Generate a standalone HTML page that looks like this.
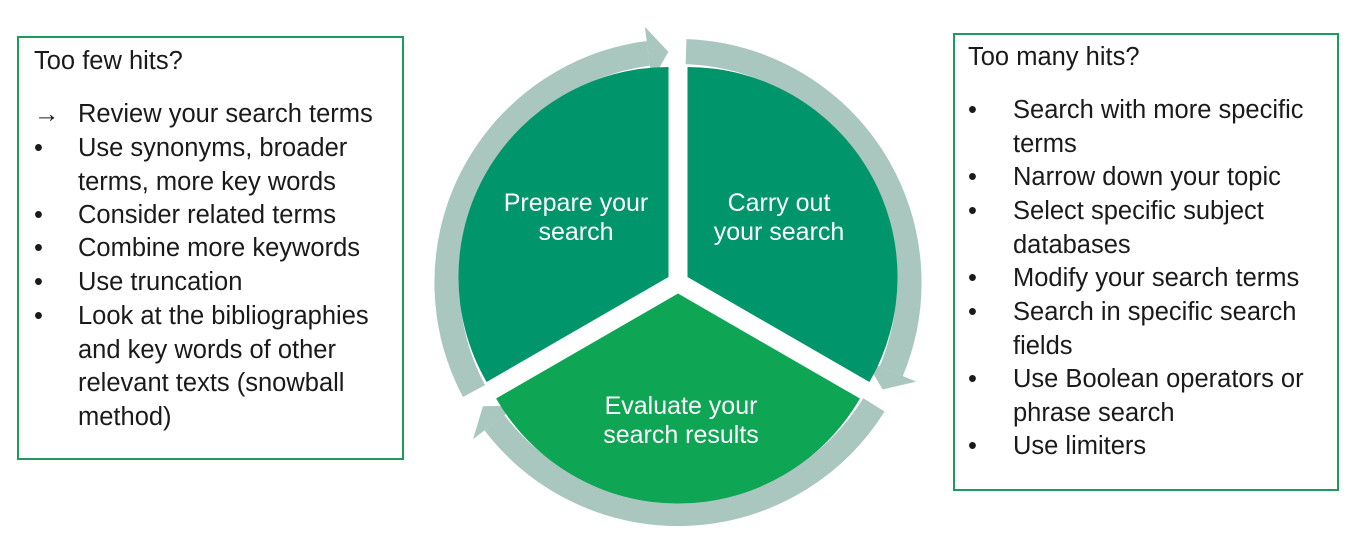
<!DOCTYPE html>
<html><head><meta charset="utf-8"><style>
body{margin:0;width:1372px;height:551px;background:#fff;position:relative;overflow:hidden;font-family:"Liberation Sans",sans-serif;color:#1a1a1a}
.box{position:absolute;border:2px solid #1e9a5e;box-sizing:border-box}
.t{position:absolute;font-size:25.5px;line-height:33.6px;white-space:nowrap}
svg{position:absolute;left:0;top:0}
</style></head><body>
<div class="box" style="left:17px;top:36px;width:387px;height:424px"></div>
<div class="box" style="left:953px;top:33px;width:386px;height:458px"></div>
<svg width="1372" height="551">
<g id="a">
<path d="M474 391 A231 231 0 0 1 648.3 53.4" fill="none" stroke="#a9c6bf" stroke-width="25"/>
<polygon points="644.8,26.7 668.3,51.7 651.9,81.2" fill="#a9c6bf"/>
</g>
<use href="#a" transform="rotate(120 678 282.5)"/>
<use href="#a" transform="rotate(240 678 282.5)"/>
<path d="M668.5 277 L668.5 67 A210 210 0 0 0 486.6 382 Z" fill="#00956b"/>
<path d="M687.5 277 L687.5 67 A210 210 0 0 1 869.4 382 Z" fill="#00956b"/>
<path d="M678 293.5 L859.9 398.5 A210 210 0 0 1 496.1 398.5 Z" fill="#0ea554"/>
<g fill="#fff" font-family="Liberation Sans, sans-serif" font-size="25" text-anchor="middle">
<text x="576" y="211">Prepare your</text><text x="576" y="240">search</text>
<text x="779" y="211">Carry out</text><text x="779" y="240">your search</text>
<text x="681" y="414">Evaluate your</text><text x="681" y="443">search results</text>
</g>
</svg>
<div class="t" style="left:34px;top:45px">Too few hits?</div>
<div class="t" style="left:34px;top:98px;font-weight:bold">→</div><div class="t" style="left:78px;top:98px">Review your search terms</div>
<div class="t" style="left:34px;top:132px">•</div><div class="t" style="left:78px;top:132px">Use synonyms, broader<br>terms, more key words</div>
<div class="t" style="left:34px;top:199px">•</div><div class="t" style="left:78px;top:199px">Consider related terms</div>
<div class="t" style="left:34px;top:232px">•</div><div class="t" style="left:78px;top:232px">Combine more keywords</div>
<div class="t" style="left:34px;top:266px">•</div><div class="t" style="left:78px;top:266px">Use truncation</div>
<div class="t" style="left:34px;top:300px">•</div><div class="t" style="left:78px;top:300px">Look at the bibliographies<br>and key words of other<br>relevant texts (snowball<br>method)</div>

<div class="t" style="left:968px;top:41px">Too many hits?</div>
<div class="t" style="left:968px;top:94px">•</div><div class="t" style="left:1013px;top:94px">Search with more specific<br>terms</div>
<div class="t" style="left:968px;top:161px">•</div><div class="t" style="left:1013px;top:161px">Narrow down your topic</div>
<div class="t" style="left:968px;top:195px">•</div><div class="t" style="left:1013px;top:195px">Select specific subject<br>databases</div>
<div class="t" style="left:968px;top:262px">•</div><div class="t" style="left:1013px;top:262px">Modify your search terms</div>
<div class="t" style="left:968px;top:296px">•</div><div class="t" style="left:1013px;top:296px">Search in specific search<br>fields</div>
<div class="t" style="left:968px;top:363px">•</div><div class="t" style="left:1013px;top:363px">Use Boolean operators or<br>phrase search</div>
<div class="t" style="left:968px;top:430px">•</div><div class="t" style="left:1013px;top:430px">Use limiters</div>
</body></html>
